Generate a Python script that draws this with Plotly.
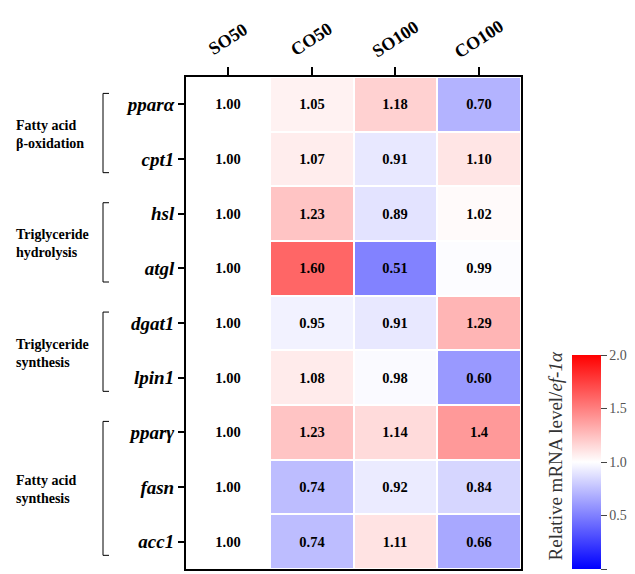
import plotly.graph_objects as go

columns = ["SO50", "CO50", "SO100", "CO100"]
genes = ["pparα", "cpt1", "hsl", "atgl", "dgat1", "lpin1", "pparγ", "fasn", "acc1"]
values = [
    [1.00, 1.05, 1.18, 0.70],
    [1.00, 1.07, 0.91, 1.10],
    [1.00, 1.23, 0.89, 1.02],
    [1.00, 1.60, 0.51, 0.99],
    [1.00, 0.95, 0.91, 1.29],
    [1.00, 1.08, 0.98, 0.60],
    [1.00, 1.23, 1.14, 1.40],
    [1.00, 0.74, 0.92, 0.84],
    [1.00, 0.74, 1.11, 0.66],
]
labels = [
    ["1.00", "1.05", "1.18", "0.70"],
    ["1.00", "1.07", "0.91", "1.10"],
    ["1.00", "1.23", "0.89", "1.02"],
    ["1.00", "1.60", "0.51", "0.99"],
    ["1.00", "0.95", "0.91", "1.29"],
    ["1.00", "1.08", "0.98", "0.60"],
    ["1.00", "1.23", "1.14", "1.4"],
    ["1.00", "0.74", "0.92", "0.84"],
    ["1.00", "0.74", "1.11", "0.66"],
]
group_names = ["Fatty acid<br>β-oxidation", "Triglyceride<br>hydrolysis",
               "Triglyceride<br>synthesis", "Fatty acid<br>synthesis"]
group_first = [0, 2, 4, 6]
group_last = [1, 3, 5, 8]
cbar_ticks = [0.0, 0.5, 1.0, 1.5, 2.0]

SERIF = "Liberation Serif, Times New Roman, serif"

fig = go.Figure(go.Heatmap(
    z=values, x=list(range(len(columns))), y=list(range(len(genes))), text=labels,
    texttemplate="<b>%{text}</b>",
    textfont=dict(family=SERIF, size=14.5, color="black"),
    colorscale=[[0, "rgb(0,0,255)"], [0.5, "rgb(255,255,255)"], [1, "rgb(255,0,0)"]],
    zmin=0, zmax=2, xgap=2, ygap=2,
    colorbar=dict(
        x=1.152, xanchor="left", y=0, yanchor="bottom",
        thickness=29, lenmode="pixels", len=214, xpad=0, ypad=0,
        outlinewidth=0, tickvals=cbar_ticks, ticktext=[f"{t:.1f}" for t in cbar_ticks],
        ticks="outside", ticklen=6, tickcolor="#444",
        tickfont=dict(family=SERIF, size=14, color="#555"),
    ),
    hoverinfo="skip",
))

fig.update_layout(
    width=635, height=574, margin=dict(l=186, r=114, t=77, b=3),
    paper_bgcolor="white", plot_bgcolor="white",
    font=dict(family=SERIF, color="black"),
)
fig.update_xaxes(side="top", tickvals=list(range(len(columns))), showticklabels=False,
                 range=[-0.5, len(columns) - 0.5],
                 ticks="outside", ticklen=8, tickwidth=1.5,
                 tickcolor="black", showline=True, linecolor="black", linewidth=2,
                 mirror=True, showgrid=False, zeroline=False)
fig.update_yaxes(tickvals=list(range(len(genes))), ticktext=genes,
                 range=[len(genes) - 0.5, -0.5], ticks="outside", ticklen=6, tickwidth=1.5,
                 tickcolor="black", showline=True, linecolor="black", linewidth=2,
                 mirror=True, showgrid=False, zeroline=False,
                 tickfont=dict(family=SERIF, size=19, color="black", weight="bold", style="italic"))

# rotated column labels centred over their ticks
for i, c in enumerate(columns):
    fig.add_annotation(xref="x", yref="paper", x=i, y=1 + (77 - 39) / 494,
                       xanchor="center", yanchor="middle", textangle=-33, showarrow=False,
                       text=f"<b>{c}</b>", font=dict(family=SERIF, size=18, color="black"))

bx0, bx1 = (103 - 186) / 335, (109 - 186) / 335
for name, a, b in zip(group_names, group_first, group_last):
    y0, y1 = a - 0.2, b + 0.25
    fig.add_shape(type="path", xref="paper", yref="y",
                  path=f"M {bx1} {y0} L {bx0} {y0} L {bx0} {y1} L {bx1} {y1}",
                  line=dict(color="black", width=1))
    fig.add_annotation(xref="paper", yref="y", x=(14 - 186) / 335, y=(a + b) / 2 + 0.05,
                       xanchor="left", yanchor="middle", align="left", showarrow=False,
                       text=f"<b>{name}</b>", font=dict(family=SERIF, size=14, color="black"))

fig.add_annotation(xref="paper", yref="paper", x=(555 - 186) / 335, y=(571 - 458) / 494,
                   xanchor="center", yanchor="middle", textangle=-90, showarrow=False,
                   text="Relative mRNA level/<i>ef-1α</i>",
                   font=dict(family=SERIF, size=19, color="#333"))

fig.write_html("out.html")
